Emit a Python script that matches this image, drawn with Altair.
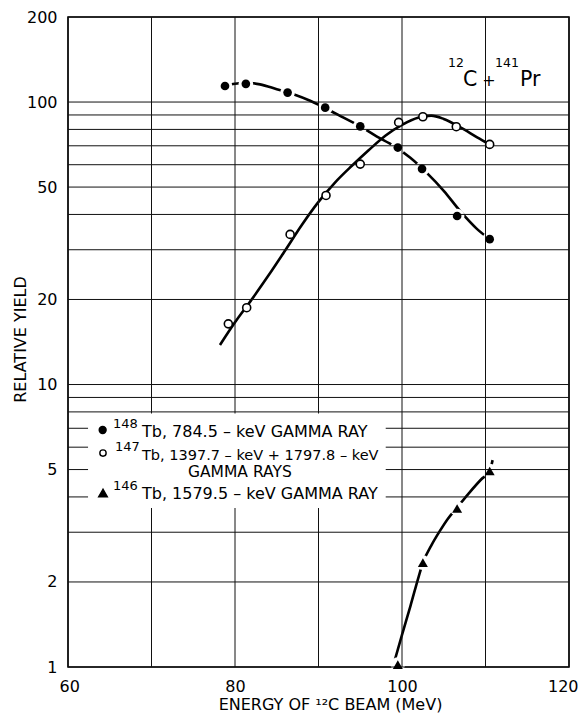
import altair as alt
import pandas as pd

# ---------------- measured data points ----------------
tb148_energy = [78.8, 81.3, 86.3, 90.8, 95.0, 99.5, 102.4, 106.6, 110.5]
tb148_yield = [114, 116, 108, 95.5, 82, 69, 58, 39.5, 32.7]

tb147_energy = [79.2, 81.4, 86.6, 90.9, 95.0, 99.6, 102.5, 106.5, 110.5]
tb147_yield = [16.4, 18.7, 34.0, 46.7, 60.3, 84.7, 88.7, 81.8, 70.8]

tb146_energy = [99.5, 102.5, 106.6, 110.5]
tb146_yield = [1.02, 2.34, 3.64, 4.94]

# ---------------- hand-drawn curves ----------------
curve148_energy = [78.8, 80, 81.5, 83, 85, 87, 89, 91, 93, 95, 97, 99, 101, 103, 105, 107, 109, 110.5]
curve148_yield = [114, 116, 117, 115.5, 111, 106.5, 101, 94.5, 88, 82, 75.5, 70, 63.5, 56, 48.5, 41, 35.5, 32.7]

curve147_energy = [78.2, 80, 82, 84, 86, 88, 90, 92, 94, 96, 98, 100, 102, 103.5, 105, 107, 109, 110.5]
curve147_yield = [13.8, 16.6, 20.0, 24.3, 29.8, 36.7, 44.3, 52.0, 59.5, 67.5, 76.0, 83.0, 88.1, 89.5, 87.1, 81.3, 75.0, 70.8]

curve146_energy = [98.9, 100, 101, 102, 102.5, 103.5, 104.5, 105.5, 106.6, 108, 109.5, 110.5, 110.85]
curve146_yield = [1.0, 1.30, 1.64, 2.09, 2.34, 2.69, 3.02, 3.35, 3.67, 4.12, 4.62, 4.94, 5.4]

# ---------------- axes / grid ----------------
x_tick_values = [60, 80, 100, 120]
y_tick_values = [1, 2, 5, 10, 20, 50, 100, 200]
x_grid_values = [60, 70, 80, 90, 100, 110, 120]
y_grid_values = [1, 2, 3, 4, 5, 6, 7, 8, 9, 10, 20, 30, 40, 50, 60, 70, 80, 90, 100, 200]

# ---------------- text ----------------
legend_isotopes = ["148", "147", "146"]
legend_lines = [
    "Tb, 784.5 \u2013 keV GAMMA RAY",
    "Tb, 1397.7 \u2013 keV + 1797.8 \u2013 keV",
    "GAMMA RAYS",
    "Tb, 1579.5 \u2013 keV GAMMA RAY",
]
title_sups = ["12", "141"]
title_mains = ["C", "+", "Pr"]

FONT = "DejaVu Sans"
xs = alt.Scale(domain=[60, 120], nice=False, zero=False)
ys = alt.Scale(type="log", domain=[1, 200], nice=False)

# data frames
pts148 = pd.DataFrame({"E": tb148_energy, "Y": tb148_yield})
pts147 = pd.DataFrame({"E": tb147_energy, "Y": tb147_yield})
pts146 = pd.DataFrame({"E": tb146_energy, "Y": tb146_yield})

curves = pd.concat([
    pd.DataFrame({"E": curve148_energy, "Y": curve148_yield, "s": "148"}),
    pd.DataFrame({"E": curve147_energy, "Y": curve147_yield, "s": "147"}),
    pd.DataFrame({"E": curve146_energy, "Y": curve146_yield, "s": "146"}),
], ignore_index=True)
curves["o"] = range(len(curves))

halo_df = pd.concat([pts148, pts146], ignore_index=True)

xgrid = pd.DataFrame({"v": x_grid_values})
ygrid = pd.DataFrame({"v": y_grid_values})

# ---------------- layers ----------------
x_axis = alt.Axis(values=x_tick_values, title="ENERGY OF \u00b9\u00b2C BEAM (MeV)",
                  labelPadding=11, labelFlush=True, labelFlushOffset=9, titleX=262, titleY=42,
                  titleBaseline="alphabetic", titleAlign="center", format="d")
y_axis = alt.Axis(values=y_tick_values, title="RELATIVE YIELD", labelPadding=11, labelFlush=False,
                  titleX=-43, titleY=322, titleAngle=270, titleBaseline="alphabetic",
                  titleAlign="center", format="d")

lines = alt.Chart(curves).mark_line(color="black", strokeWidth=2.6, clip=True, interpolate="monotone").encode(
    x=alt.X("E:Q", scale=xs, axis=x_axis),
    y=alt.Y("Y:Q", scale=ys, axis=y_axis),
    detail="s:N",
    order="o:Q",
)

halos = alt.Chart(halo_df).mark_point(shape="circle", filled=True, color="white", size=215, opacity=1).encode(
    x=alt.X("E:Q", scale=xs), y=alt.Y("Y:Q", scale=ys)
)

hgrid = alt.Chart(ygrid).mark_rule(color="#111111", strokeWidth=1).encode(
    y=alt.Y("v:Q", scale=ys)
)
vgrid = alt.Chart(xgrid).mark_rule(color="#111111", strokeWidth=1).encode(
    x=alt.X("v:Q", scale=xs)
)

m148 = alt.Chart(pts148).mark_point(shape="circle", filled=True, color="black", size=75, opacity=1).encode(
    x=alt.X("E:Q", scale=xs), y=alt.Y("Y:Q", scale=ys)
)
m147 = alt.Chart(pts147).mark_point(shape="circle", filled=True, fill="white", stroke="black",
                                    strokeWidth=1.6, size=64, opacity=1).encode(
    x=alt.X("E:Q", scale=xs), y=alt.Y("Y:Q", scale=ys)
)
m146 = alt.Chart(pts146).mark_point(shape="triangle-up", filled=True, color="black", size=100,
                                    opacity=1, clip=False).encode(
    x=alt.X("E:Q", scale=xs), y=alt.Y("Y:Q", scale=ys)
)

# legend box
legend_box = alt.Chart(pd.DataFrame({"x": [62.4], "x2": [98.05], "y": [3.655], "y2": [7.9]})).mark_rect(
    color="white", opacity=1
).encode(
    x=alt.X("x:Q", scale=xs), x2="x2:Q", y=alt.Y("y:Q", scale=ys), y2="y2:Q"
)

legend_marks_df = pd.DataFrame({
    "x": [64.15, 64.19, 64.19],
    "y": [6.90, 5.72, 4.13],
    "shape": ["circle", "circle", "triangle-up"],
    "fill": ["black", "white", "black"],
    "size": [48, 40, 75],
})
legend_marks = alt.Chart(legend_marks_df).mark_point(filled=True, stroke="black", strokeWidth=1.4, opacity=1).encode(
    x=alt.X("x:Q", scale=xs), y=alt.Y("y:Q", scale=ys),
    shape=alt.Shape("shape:N", scale=None),
    fill=alt.Fill("fill:N", scale=None),
    size=alt.Size("size:Q", scale=None),
)

legend_sup_df = pd.DataFrame({"t": legend_isotopes, "x": [65.39, 65.63, 65.39], "y": [6.52, 5.41, 3.93]})
legend_sup = alt.Chart(legend_sup_df).mark_text(
    align="left", baseline="alphabetic", dy=-9, font=FONT, fontSize=13, color="black"
).encode(x=alt.X("x:Q", scale=xs), y=alt.Y("y:Q", scale=ys), text="t:N")

legend_main_df = pd.DataFrame({
    "t": legend_lines,
    "x": [68.86, 68.86, 74.37, 68.86],
    "y": [6.52, 5.41, 4.72, 3.93],
    "fs": [16, 14.5, 15.5, 16],
})
legend_main = alt.Chart(legend_main_df).mark_text(
    align="left", baseline="alphabetic", font=FONT, color="black"
).encode(
    x=alt.X("x:Q", scale=xs), y=alt.Y("y:Q", scale=ys), text="t:N",
    size=alt.Size("fs:Q", scale=None),
)

# reaction label
tsup_df = pd.DataFrame({"t": title_sups, "x": [105.51, 111.14], "y": [114.4, 114.4]})
tsup = alt.Chart(tsup_df).mark_text(
    align="left", baseline="alphabetic", dy=-19, font=FONT, fontSize=12.5, color="black"
).encode(x=alt.X("x:Q", scale=xs), y=alt.Y("y:Q", scale=ys), text="t:N")

tmain_df = pd.DataFrame({"t": title_mains, "x": [107.31, 109.6, 114.13], "y": [114.4, 114.4, 114.4],
                         "fs": [20.5, 16, 20.5]})
tmain = alt.Chart(tmain_df).mark_text(
    align="left", baseline="alphabetic", font=FONT, color="black"
).encode(x=alt.X("x:Q", scale=xs), y=alt.Y("y:Q", scale=ys), text="t:N",
         size=alt.Size("fs:Q", scale=None))

chart = alt.layer(
    lines, halos, hgrid, vgrid, m148, m147, m146,
    legend_box, legend_marks, legend_sup, legend_main, tsup, tmain
).properties(
    width=501, height=650,
    padding={"left": 60, "top": 9, "right": 10, "bottom": 46},
    autosize=alt.AutoSizeParams(type="none"),
).configure_axis(
    labelFont=FONT, labelFontSize=16, labelColor="black",
    titleFont=FONT, titleFontSize=16, titleFontWeight="normal", titleColor="black",
    ticks=False, tickSize=0, domain=False, grid=False,
).configure_view(
    stroke="black", strokeWidth=1.6
)

chart.save("out.html", embed_options={"renderer": "svg", "actions": False})
